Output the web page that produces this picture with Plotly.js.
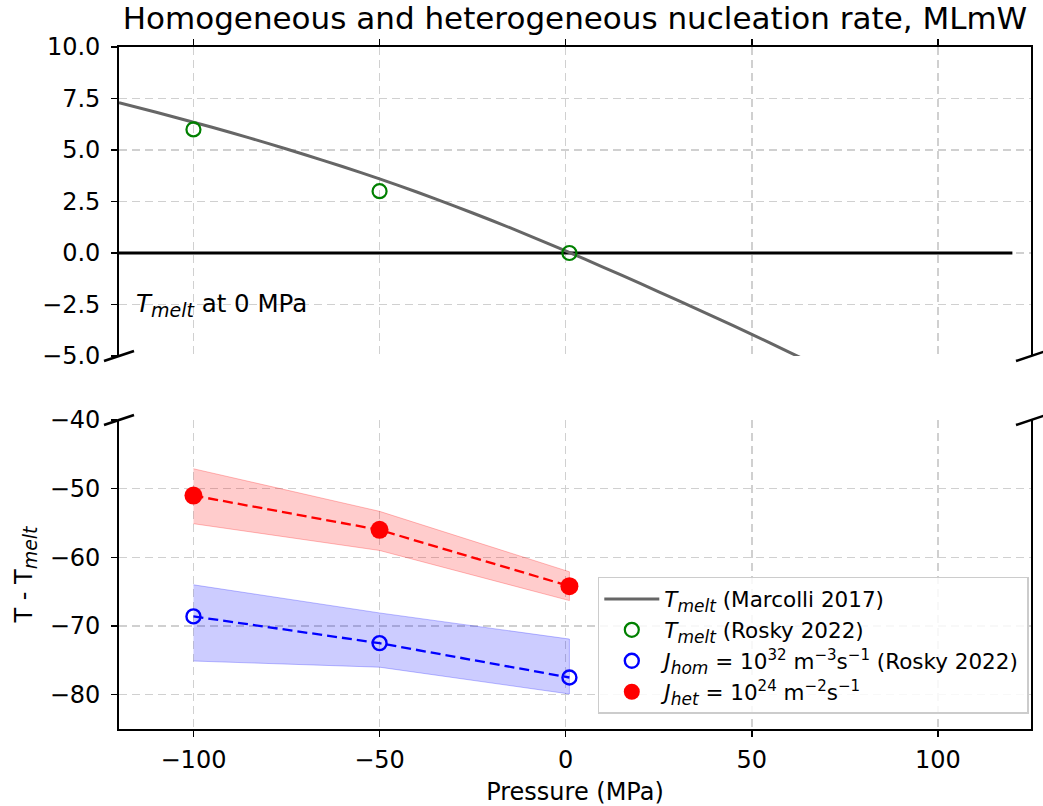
<!DOCTYPE html>
<html>
<head>
<meta charset="utf-8">
<script src="https://cdn.plot.ly/plotly-3.0.1.min.js"></script>
<style>html,body{margin:0;padding:0;background:#fff;}#chart{width:1043px;height:806px;}</style>
</head>
<body>
<div id="chart"></div>
<script>
// ---- data ----
const marcolliP = [-120, -110, -100, -90, -80, -70, -60, -50, -40, -30, -20, -10, 0, 10, 20, 30, 40, 50, 60, 63];
const marcolliT = [7.30, 6.83, 6.35, 5.85, 5.32, 4.77, 4.20, 3.60, 2.96, 2.29, 1.59, 0.86, 0.10, -0.68, -1.48, -2.29, -3.11, -3.95, -4.81, -5.07];

const roskyP = [-100, -50, 1];
const roskyTmelt = [6.0, 3.0, 0.0];

const homP = [-100, -50, 1];
const homT = [-68.6, -72.5, -77.5];
const homUpper = [-64.0, -68.1, -71.9];
const homLower = [-75.1, -76.0, -79.9];

const hetP = [-100, -50, 1];
const hetT = [-51.0, -56.0, -64.2];
const hetUpper = [-47.1, -53.3, -62.1];
const hetLower = [-55.1, -59.0, -66.3];

const zeroLineP = [-120, 120];
const zeroLineT = [0, 0];

const xTickVals = [-100, -50, 0, 50, 100];

// ---- helpers ----
function band(p, up, lo) {
  return {x: p.concat(p.slice().reverse()), y: up.concat(lo.slice().reverse())};
}
const hetBand = band(hetP, hetUpper, hetLower);
const homBand = band(homP, homUpper, homLower);

const FONT = 'DejaVu Sans, sans-serif';
function sub(t, px) { return '<sub><span style="font-size:' + px + 'px"><i>' + t + '</i></span></sub>'; }

const traces = [
  {x: zeroLineP, y: zeroLineT, xaxis: 'x2', yaxis: 'y2', mode: 'lines',
   line: {color: 'black', width: 2.8}, showlegend: false, hoverinfo: 'skip'},
  {x: marcolliP, y: marcolliT, xaxis: 'x2', yaxis: 'y2', mode: 'lines', legendgroup: 'a',
   line: {color: '#666666', width: 3, shape: 'spline', smoothing: 0.6}, name: '<i>T</i>' + sub('melt', 17) + ' (Marcolli 2017)'},
  {x: roskyP, y: roskyTmelt, xaxis: 'x2', yaxis: 'y2', mode: 'markers', legendgroup: 'b',
   marker: {symbol: 'circle-open', size: 14, color: 'green', line: {width: 2.2, color: 'green'}},
   name: '<i>T</i>' + sub('melt', 17) + ' (Rosky 2022)'},
  {x: hetBand.x, y: hetBand.y, xaxis: 'x', yaxis: 'y', mode: 'lines', fill: 'toself',
   fillcolor: 'rgba(255,0,0,0.2)', line: {color: 'rgba(255,0,0,0.25)', width: 1},
   showlegend: false, hoverinfo: 'skip'},
  {x: homBand.x, y: homBand.y, xaxis: 'x', yaxis: 'y', mode: 'lines', fill: 'toself',
   fillcolor: 'rgba(0,0,255,0.2)', line: {color: 'rgba(0,0,255,0.25)', width: 1},
   showlegend: false, hoverinfo: 'skip'},
  {x: hetP, y: hetT, xaxis: 'x', yaxis: 'y', mode: 'lines',
   line: {color: 'red', width: 2.3, dash: '10px,5px'}, showlegend: false, hoverinfo: 'skip'},
  {x: homP, y: homT, xaxis: 'x', yaxis: 'y', mode: 'lines',
   line: {color: 'blue', width: 2.3, dash: '10px,5px'}, showlegend: false, hoverinfo: 'skip'},
  {x: homP, y: homT, xaxis: 'x', yaxis: 'y', mode: 'markers', legendgroup: 'c',
   marker: {symbol: 'circle-open', size: 14, color: 'blue', line: {width: 2.4, color: 'blue'}},
   name: '<i>J</i>' + sub('hom', 17) + ' = 10<sup>32</sup> m<sup>−3</sup>s<sup>−1</sup> (Rosky 2022)'},
  {x: hetP, y: hetT, xaxis: 'x', yaxis: 'y', mode: 'markers', legendgroup: 'd',
   marker: {symbol: 'circle', size: 18, color: 'red'},
   name: '<i>J</i>' + sub('het', 17) + ' = 10<sup>24</sup> m<sup>−2</sup>s<sup>−1</sup>'}
];

const botTop = 309/682, topBot = 373/682;
const dx = 15/912, dy = 5/682;
function brk(xc, yc) {
  return {type: 'line', xref: 'paper', yref: 'paper', x0: xc - dx, y0: yc - dy, x1: xc + dx, y1: yc + dy,
          line: {color: 'black', width: 2.6}, layer: 'above'};
}

const gridCommon = {showgrid: true, gridcolor: '#d0d0d0', gridwidth: 1.5, griddash: '8px,5px', zeroline: false};
const tickFont = {family: FONT, size: 24, color: 'black'};

const layout = {
  width: 1043, height: 806,
  margin: {l: 119, r: 12, t: 47, b: 77},
  paper_bgcolor: 'white', plot_bgcolor: 'white',
  font: {family: FONT, color: 'black'},
  title: {text: 'Homogeneous and heterogeneous nucleation rate, MLmW', font: {family: FONT, size: 31, color: 'black'},
          x: 0.5, xref: 'paper', y: 0.977, yref: 'container', yanchor: 'middle'},
  showlegend: true,
  legend: {x: 0.525, y: 0.223, xanchor: 'left', yanchor: 'top', xref: 'paper', yref: 'paper',
           bgcolor: 'rgba(255,255,255,0.85)', bordercolor: '#cccccc', borderwidth: 1.5,
           itemwidth: 55, tracegroupgap: 3, traceorder: 'normal',
           font: {family: FONT, size: 21.5, color: 'black'}},
  xaxis: Object.assign({}, gridCommon, {
    domain: [0, 1], anchor: 'y', range: [-120, 125], tickvals: xTickVals,
    ticks: 'outside', ticklen: 6, tickwidth: 1.5, tickcolor: 'black', ticklabelstandoff: 2,
    showline: true, linecolor: 'black', linewidth: 1.8, tickfont: tickFont,
    title: {text: 'Pressure (MPa)', font: {family: FONT, size: 24, color: 'black'}, standoff: 12}
  }),
  xaxis2: Object.assign({}, gridCommon, {
    domain: [0, 1], anchor: 'y2', matches: 'x', range: [-120, 125], tickvals: xTickVals, side: 'top',
    ticks: 'outside', ticklen: 6, tickwidth: 1.5, tickcolor: 'black', showticklabels: false,
    showline: true, linecolor: 'black', linewidth: 1.8
  }),
  yaxis: Object.assign({}, gridCommon, {
    domain: [0, botTop], anchor: 'x', range: [-85, -40], dtick: 10, tick0: 0,
    ticks: 'outside', ticklen: 6, tickwidth: 1.5, tickcolor: 'black', ticklabelstandoff: 6,
    showline: true, mirror: true, linecolor: 'black', linewidth: 1.8, tickfont: tickFont,
    title: {text: 'T - T' + sub('melt', 19), font: {family: FONT, size: 24, color: 'black'}, standoff: 10}
  }),
  yaxis2: Object.assign({}, gridCommon, {
    domain: [topBot, 1], anchor: 'x2', range: [-5, 10], dtick: 2.5, tick0: 0, tickformat: '.1f',
    ticks: 'outside', ticklen: 6, tickwidth: 1.5, tickcolor: 'black', ticklabelstandoff: 6,
    showline: true, mirror: true, linecolor: 'black', linewidth: 1.8, tickfont: tickFont
  }),
  annotations: [
    {text: '<i>T</i>' + sub('melt', 19) + ' at 0 MPa', xref: 'x2', yref: 'y2', x: -116, y: -2.5,
     xanchor: 'left', yanchor: 'middle', showarrow: false, font: {family: FONT, size: 24.5, color: 'black'}}
  ],
  shapes: [brk(0, topBot), brk(0, botTop), brk(1, topBot), brk(1, botTop)]
};

Plotly.newPlot('chart', traces, layout, {displayModeBar: false, staticPlot: true});
</script>
</body>
</html>
